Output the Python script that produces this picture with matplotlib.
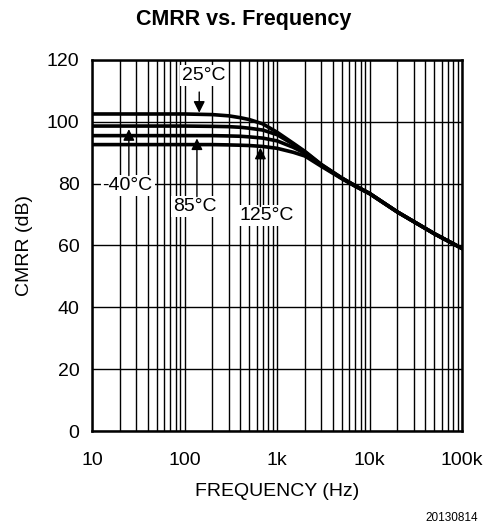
import matplotlib
matplotlib.use('Agg')
import matplotlib.pyplot as plt
from matplotlib.ticker import FixedLocator, LogLocator, NullFormatter

plt.rcParams['font.family'] = ['Liberation Sans', 'DejaVu Sans']

# values
freq = [10, 20, 50, 100, 200, 300, 400, 500, 700, 1000, 1500, 2000, 3000,
        5000, 7000, 10000, 20000, 50000, 100000]
cmrr_25 = [102.5, 102.5, 102.5, 102.5, 102.3, 101.9, 101.3, 100.7, 99.3,
           96.6, 93.0, 90.4, 86.2, 81.8, 79.3, 76.8, 70.8, 63.8, 59.0]
cmrr_m40 = [98.6, 98.6, 98.6, 98.6, 98.5, 98.4, 98.2, 97.9, 97.3,
            95.8, 92.7, 90.2, 86.1, 81.8, 79.3, 76.8, 70.8, 63.8, 59.0]
cmrr_85 = [95.5, 95.5, 95.5, 95.5, 95.5, 95.4, 95.3, 95.1, 94.7,
           93.8, 91.7, 89.8, 85.9, 81.7, 79.2, 76.8, 70.8, 63.8, 59.0]
cmrr_125 = [92.6, 92.6, 92.6, 92.6, 92.6, 92.5, 92.4, 92.3, 92.0,
            91.4, 90.1, 88.9, 85.6, 81.6, 79.1, 76.7, 70.8, 63.8, 59.0]

xticks = [10, 100, 1000, 10000, 100000]
xtick_labels = ['10', '100', '1k', '10k', '100k']
yticks = [0, 20, 40, 60, 80, 100, 120]

fig = plt.figure(figsize=(4.87, 5.25), dpi=100)
ax = fig.add_axes([0.189, 0.179, 0.760, 0.707])

for vals in (cmrr_25, cmrr_m40, cmrr_85, cmrr_125):
    ax.plot(freq, vals, color='black', lw=2.6, solid_capstyle='round', zorder=3)

ax.set_xscale('log')
ax.set_xlim(10, 100000)
ax.set_ylim(0, 120)
ax.xaxis.set_major_locator(FixedLocator(xticks))
ax.set_xticklabels(xtick_labels)
ax.xaxis.set_minor_locator(LogLocator(base=10, subs=range(2, 10)))
ax.xaxis.set_minor_formatter(NullFormatter())
ax.set_yticks(yticks)
ax.grid(True, which='both', axis='x', color='black', lw=1.0)
ax.grid(True, which='major', axis='y', color='black', lw=1.0)
ax.tick_params(which='both', length=0, labelsize=14)
ax.tick_params(axis='x', pad=15)
ax.tick_params(axis='y', pad=9)
for sp in ax.spines.values():
    sp.set_linewidth(1.8)

ax.set_xlabel('FREQUENCY (Hz)', fontsize=14, labelpad=10)
ax.set_ylabel('CMRR (dB)', fontsize=14, labelpad=10)
fig.text(0.5, 0.962, 'CMRR vs. Frequency', ha='center', va='center',
         fontsize=15.5, fontweight='bold')
fig.text(0.982, 0.014, '20130814', ha='right', va='center', fontsize=8.5)

box = dict(boxstyle='square,pad=0.1', fc='white', ec='none')
arrow = dict(arrowstyle='-|>', color='black', lw=1.0, mutation_scale=17,
             shrinkA=0, shrinkB=0)

# labels with arrows
ax.text(160, 115, '25°C', ha='center', va='center', fontsize=14, bbox=box, zorder=4)
ax.annotate('', xy=(144, 102.9), xytext=(144, 109.6), arrowprops=arrow, zorder=4)

ax.text(24.2, 79.4, '-40°C', ha='center', va='center', fontsize=14, bbox=box, zorder=4)
ax.annotate('', xy=(25, 97.6), xytext=(25, 82.6), arrowprops=arrow, zorder=4)

ax.text(130, 72.7, '85°C', ha='center', va='center', fontsize=14, bbox=box, zorder=4)
ax.annotate('', xy=(136, 94.6), xytext=(136, 75.8), arrowprops=arrow, zorder=4)

ax.text(780, 69.6, '125°C', ha='center', va='center', fontsize=14, bbox=box, zorder=4)
ax.annotate('', xy=(660, 91.6), xytext=(660, 72.6), arrowprops=arrow, zorder=4)

fig.savefig('out.png', dpi=100)
